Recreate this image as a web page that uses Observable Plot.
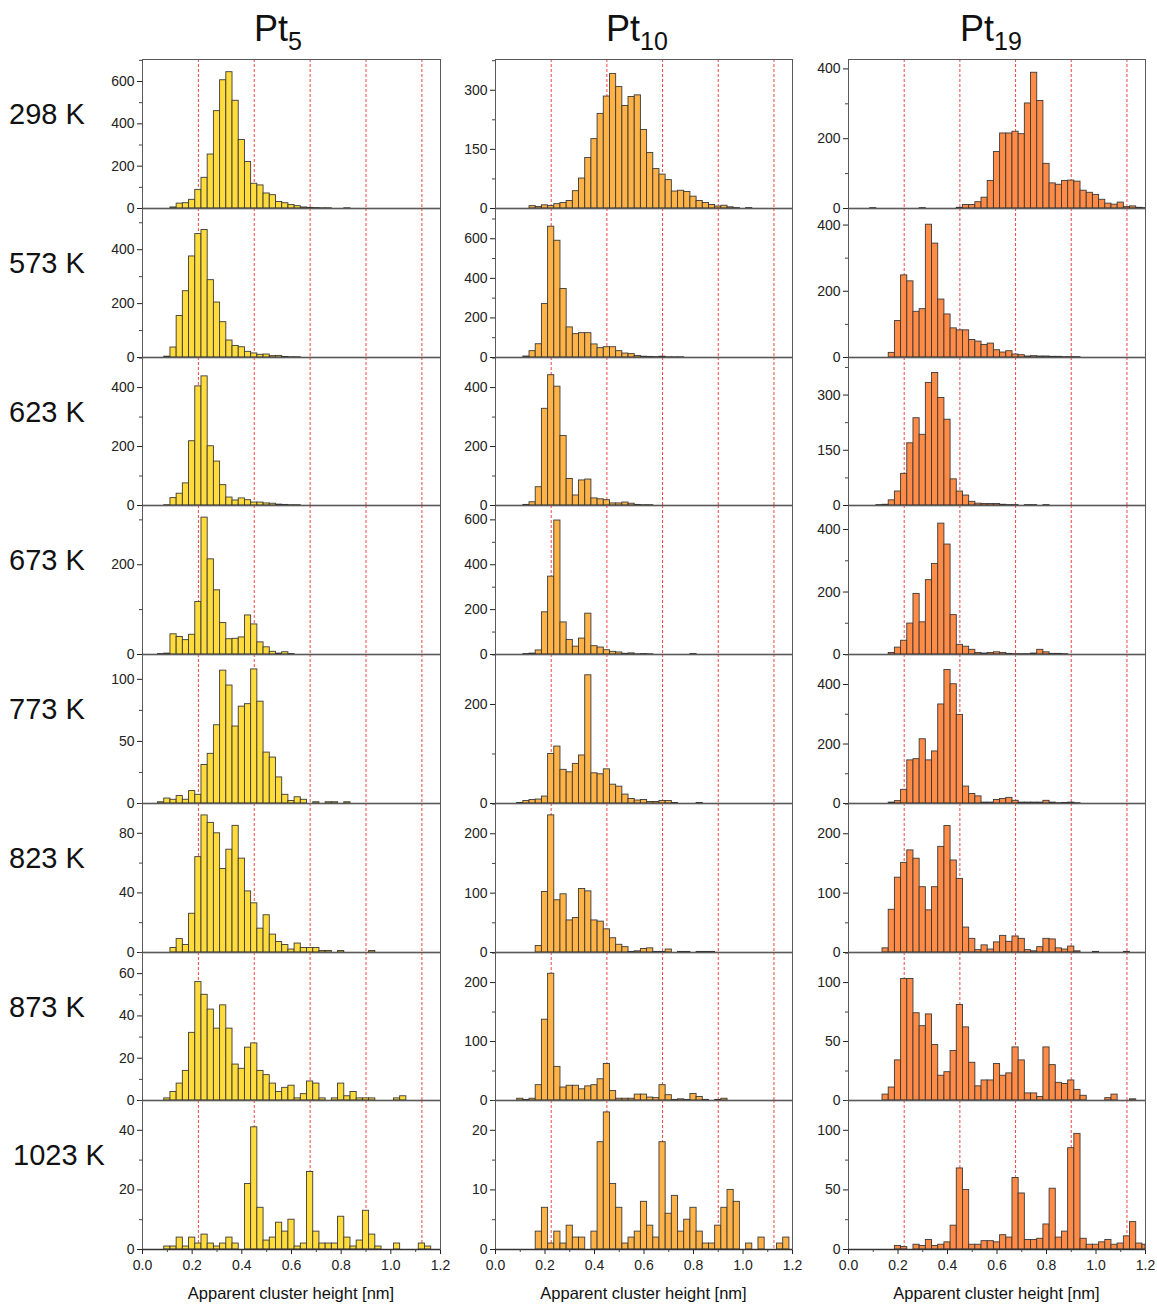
<!DOCTYPE html>
<html><head><meta charset="utf-8">
<script src="https://cdn.jsdelivr.net/npm/d3@7"></script>
<script src="https://cdn.jsdelivr.net/npm/@observablehq/plot@0.6"></script>
<style>
body{margin:0;background:#fff;font-family:"Liberation Sans",Arial,sans-serif;}
#chart{position:relative;width:1157px;height:1304px;overflow:hidden;background:#fff;}
.abs{position:absolute;white-space:nowrap;color:#111;}
</style></head><body><div id="chart"></div>
<script>
// ---- text ----
const clusterBase = ["Pt", "Pt", "Pt"];
const clusterSub = ["5", "10", "19"];
const temps = ["298 K", "573 K", "623 K", "673 K", "773 K", "823 K", "873 K", "1023 K"];
const xLabel = "Apparent cluster height [nm]";
const xTicks = [0, 0.2, 0.4, 0.6, 0.8, 1.0, 1.2];
const xMinor = [0.1, 0.3, 0.5, 0.7, 0.9, 1.1];
const refLines = [0.225, 0.45, 0.675, 0.9, 1.125];
const binWidth = 0.025; // bins centred at k*0.025 nm, counts below start at k = 0

// ---- Pt5 counts ----
const pt5_298K = [0,0,0,0,0,5,23,25,41,88,145,255,460,606,644,509,324,220,117,109,71,63,31,25,16,11,5,3,2,1,1,0,0,1];
const pt5_573K = [0,0,0,0,3,37,154,246,375,458,473,287,204,131,63,43,38,21,15,10,11,5,6,2,1,1];
const pt5_623K = [0,0,0,0,1,25,40,75,218,404,438,201,149,69,27,17,24,18,10,10,7,6,3,2,1,1];
const pt5_673K = [0,0,0,1,2,45,39,32,44,117,305,212,143,70,34,35,38,87,67,27,16,6,2,5,1];
const pt5_773K = [0,0,0,1,4,3,6,3,10,7,31,40,63,107,95,62,78,80,108,82,41,37,21,7,2,5,3,0,1,0,1,1,0,1];
const pt5_823K = [0,0,0,0,0,3,9,5,26,64,92,87,80,56,69,85,63,41,33,16,25,12,7,5,2,6,3,3,3,1,1,0,1,0,0,0,0,1];
const pt5_873K = [0,0,0,0,1,4,8,14,32,56,50,43,34,45,34,17,15,25,27,14,12,8,4,6,7,1,3,9,8,1,0,1,8,2,4,1,1,1,0,0,0,1,2];
const pt5_1023K = [0,0,0,0,1,1,4,1,4,2,5,2,1,2,4,2,0,22,41,14,3,4,9,6,10,1,2,26,6,2,2,2,11,4,1,3,13,5,1,0,0,2,0,0,0,2,1];

// ---- Pt10 counts ----
const pt10_298K = [0,0,0,0,0,0,6,4,8,6,11,14,19,44,76,128,176,240,284,341,308,260,283,287,199,141,100,86,72,43,45,42,30,19,14,9,5,7,3,1,0,1];
const pt10_573K = [0,0,0,0,0,5,32,67,270,661,590,346,152,118,123,123,66,47,52,52,32,20,17,8,4,3,2,4,1,1,1];
const pt10_623K = [0,0,0,0,0,2,11,62,328,442,403,236,90,34,85,88,24,21,18,7,7,10,6,2,1,1];
const pt10_673K = [0,0,0,0,0,2,4,18,188,347,597,143,65,35,71,182,37,31,19,12,9,3,5,1,2,1,0,0,0,0,0,0,2];
const pt10_773K = [0,0,0,0,1,5,7,8,14,100,115,68,63,80,97,259,61,59,69,38,34,18,9,6,7,3,3,5,5,1,0,0,0,1];
const pt10_823K = [0,0,0,0,0,0,0,11,102,231,88,98,54,58,107,103,54,52,39,24,13,9,1,2,6,7,1,1,5,0,1,1,0,1,1,1];
const pt10_873K = [0,0,0,0,3,1,3,26,137,215,57,22,25,25,19,24,26,36,62,16,3,3,3,10,10,5,4,26,9,1,2,1,11,6,1,0,1,3];
const pt10_1023K = [0,0,0,0,0,0,0,3,7,1,3,1,4,2,2,0,3,18,23,11,7,1,2,3,8,4,2,18,6,9,3,5,7,3,1,1,4,7,10,8,0,1,0,2,0,0,1,2];

// ---- Pt19 counts ----
const pt19_298K = [0,0,0,0,1,0,0,0,0,0,0,0,1,0,0,0,0,0,2,10,10,18,31,79,162,215,215,220,213,301,389,308,128,72,68,79,80,77,51,45,39,25,14,11,17,4,6,2,1];
const pt19_573K = [0,0,0,0,0,0,0,14,110,248,230,138,146,401,344,175,130,88,82,82,53,48,38,42,22,15,19,9,7,3,4,3,3,2,2,1,1,1];
const pt19_623K = [0,0,0,0,0,1,2,14,38,86,169,237,192,333,360,292,233,71,38,27,10,5,4,4,4,2,1,1,0,1,1,0,1];
const pt19_673K = [0,0,0,0,0,0,0,5,22,44,99,194,103,238,290,419,352,126,31,25,15,5,3,5,7,5,2,1,1,1,3,15,7,2,2,1];
const pt19_773K = [0,0,0,0,0,0,0,3,8,46,145,149,216,145,175,333,449,401,298,57,32,24,3,3,12,15,19,9,3,3,3,3,9,3,1,2,3,1];
const pt19_823K = [0,0,0,0,0,0,7,72,126,151,172,158,110,71,110,178,213,155,124,42,23,4,12,5,17,28,18,27,23,4,2,9,23,22,7,5,10,2,0,0,1,0,0,0,0,1];
const pt19_873K = [0,0,0,0,0,0,5,11,34,103,103,74,63,73,47,21,24,42,81,62,32,12,17,17,31,21,23,45,34,6,6,3,45,30,15,14,17,9,4,0,0,0,2,5,0,0,1];
const pt19_1023K = [0,0,0,0,0,0,0,0,3,2,0,4,3,8,3,4,6,20,68,50,4,4,7,7,6,12,10,60,47,8,8,9,21,51,10,15,85,97,9,4,4,6,8,4,5,11,23,5,4];

// ---- y axes (upper limit, labelled tick step) ----
const yMaxPt5 = [704, 553, 502, 332, 120, 100, 70, 50];
const yStepPt5 = [200, 200, 200, 200, 50, 40, 20, 20];
const yMaxPt10 = [378, 753, 502, 664, 301, 251, 251, 25];
const yStepPt10 = [150, 200, 200, 200, 200, 100, 100, 10];
const yMaxPt19 = [427, 450, 402, 477, 501, 251, 125.5, 125];
const yStepPt19 = [200, 200, 150, 200, 200, 100, 50, 50];

const series = [
  [pt5_298K, pt5_573K, pt5_623K, pt5_673K, pt5_773K, pt5_823K, pt5_873K, pt5_1023K],
  [pt10_298K, pt10_573K, pt10_623K, pt10_673K, pt10_773K, pt10_823K, pt10_873K, pt10_1023K],
  [pt19_298K, pt19_573K, pt19_623K, pt19_673K, pt19_773K, pt19_823K, pt19_873K, pt19_1023K]
];
const yMax = [yMaxPt5, yMaxPt10, yMaxPt19];
const yStep = [yStepPt5, yStepPt10, yStepPt19];

// ---- style / layout ----
const fills = ["#FFDC3C", "#FFB347", "#FF8B46"];
const frameLeft = [142, 495, 848];
const frameWidth = [298, 297, 297];
const rowTops = [59, 208, 357, 505, 654, 803, 952, 1100, 1249];
const titleCenters = [278, 637, 991];
const FONT = '"Liberation Sans", Arial, sans-serif';

const chart = document.getElementById("chart");

function addText(html, style) {
  const d = document.createElement("div");
  d.className = "abs";
  d.innerHTML = html;
  Object.assign(d.style, style);
  chart.appendChild(d);
  return d;
}

for (let c = 0; c < 3; c++) {
  for (let r = 0; r < 8; r++) {
    const counts = series[c][r];
    const data = counts.map((n, k) => ({
      x1: Math.max(0, k * binWidth - binWidth / 2),
      x2: Math.min(1.2, k * binWidth + binWidth / 2),
      count: n
    })).filter(d => d.count > 0);
    const ymax = yMax[c][r];
    const step = yStep[c][r];
    const major = d3.range(0, ymax + 1e-9, step);
    const minor = d3.range(step / 2, ymax + 1e-9, step);
    const isBottom = r === 7;
    const ml = 50, mr = 10, mt = 8, mb = isBottom ? 60 : 8;
    const innerH = rowTops[r + 1] - rowTops[r];
    const fw = frameWidth[c];
    const marks = [
      Plot.ruleX(refLines, {stroke: "#E8342C", strokeWidth: 0.9, strokeDasharray: "3,2"}),
      Plot.rect(data, {x1: "x1", x2: "x2", y1: () => 0, y2: "count", fill: fills[c], stroke: "#3a3a3a", strokeWidth: 0.9}),
      Plot.ruleY(minor, {x1: () => 0, x2: () => 0, insetLeft: -3, insetRight: 0, stroke: "#444"}),
      Plot.frame({stroke: "#5a5a5a", strokeWidth: 1}),
      Plot.ruleY([0], {stroke: "#333", strokeWidth: 1.4})
    ];
    if (isBottom) marks.push(Plot.ruleX(xMinor, {y1: () => 0, y2: () => 0, insetBottom: -3, insetTop: 0, stroke: "#444"}));
    const svg = Plot.plot({
      width: ml + fw + mr,
      height: innerH + mt + mb,
      marginLeft: ml, marginRight: mr, marginTop: mt, marginBottom: mb,
      style: {background: "transparent", overflow: "visible", fontSize: "14px", fontFamily: FONT, color: "#222"},
      x: {domain: [0, 1.2], axis: isBottom ? "bottom" : null, ticks: xTicks, tickFormat: d3.format(".1f"), tickSize: 5, tickPadding: 6, label: null},
      y: {domain: [0, ymax], ticks: major, tickSize: 5, tickPadding: 3, label: null, tickFormat: d => String(d)},
      marks
    });
    svg.style.position = "absolute";
    svg.style.left = (frameLeft[c] - ml) + "px";
    svg.style.top = (rowTops[r] - mt) + "px";
    chart.appendChild(svg);
  }
  // column title
  addText(`${clusterBase[c]}<span style="font-size:25px;position:relative;top:9px">${clusterSub[c]}</span>`, {
    left: titleCenters[c] + "px", top: "11px", fontSize: "36px", lineHeight: "36px", transform: "translateX(-50%)"
  });
  // x-axis label
  addText(xLabel, {
    left: (frameLeft[c] + frameWidth[c] / 2) + "px", top: "1285px", fontSize: "16.5px", lineHeight: "16.5px", transform: "translateX(-50%)"
  });
}
for (let r = 0; r < 8; r++) {
  addText(temps[r], {
    left: (r === 7 ? 13 : 9) + "px", top: (rowTops[r] + 40.5) + "px", fontSize: "29px", lineHeight: "29px"
  });
}
</script></body></html>
